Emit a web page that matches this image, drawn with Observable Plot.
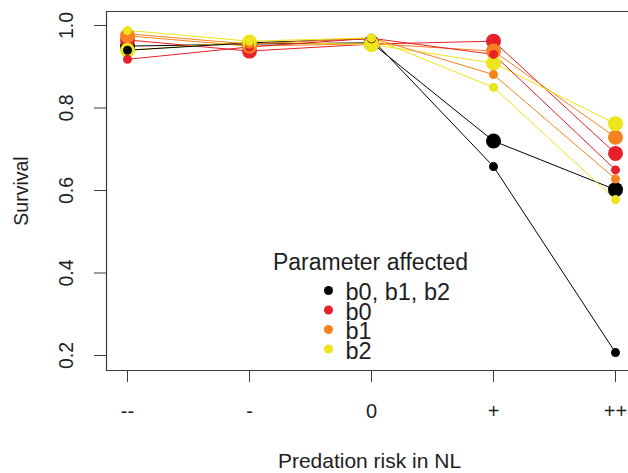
<!DOCTYPE html>
<html><head><meta charset="utf-8">
<script src="https://cdn.jsdelivr.net/npm/d3@7"></script>
<script src="https://cdn.jsdelivr.net/npm/@observablehq/plot@0.6"></script>
<style>html,body{margin:0;padding:0;background:#fff;overflow:hidden}</style>
</head><body><div id="chart"></div>
<script>
// ---- data ----
const categories = ["--", "-", "0", "+", "++"];
const yTicks = [0.2, 0.4, 0.6, 0.8, 1.0];
const xTitle = "Predation risk in NL";
const yTitle = "Survival";
const legendTitle = "Parameter affected";
const legendLabels = ["b0, b1, b2", "b0", "b1", "b2"];
const legendColors = ["#000000", "#e8202a", "#f5821f", "#ede41a"];

// large points (first set) and small points (second set), per parameter
const blackLarge  = [0.950, 0.955, 0.958, 0.720, 0.602];
const redLarge    = [0.965, 0.938, 0.955, 0.962, 0.690];
const orangeLarge = [0.975, 0.950, 0.956, 0.938, 0.729];
const yellowLarge = [0.940, 0.960, 0.954, 0.909, 0.762];
const blackSmall  = [0.940, 0.958, 0.968, 0.658, 0.207];
const redSmall    = [0.918, 0.948, 0.969, 0.930, 0.650];
const orangeSmall = [0.980, 0.955, 0.970, 0.881, 0.628];
const yellowSmall = [0.988, 0.962, 0.970, 0.850, 0.578];

const largeSeries = [blackLarge, redLarge, orangeLarge, yellowLarge];
const smallSeries = [blackSmall, redSmall, orangeSmall, yellowSmall];

function rowsOf(list, kind) {
  const rows = [];
  list.forEach((vals, s) => vals.forEach((v, i) => rows.push({series: kind + s, color: legendColors[s], i, v})));
  return rows;
}
const largeRows = rowsOf(largeSeries, "L");
const smallRows = rowsOf(smallSeries, "S");
const allRows = largeRows.concat(smallRows);

// ---- layout ----
const W = 628, H = 473;
const mL = 106, mR = 0, mT = 11, mB = 103;
const x0 = 127, step = 122;
const xDomain = [(mL - x0) / step, (W - mR - x0) / step];
const yDomain = [0.2 - 15 / 412.5, 1.0 + 14 / 412.5];
const axisColor = "#3a3a3a";
const textColor = "#1e1e1e";
const fmt = d3.format(".1f");

const marks = [
  Plot.ruleY(yDomain, {stroke: axisColor, strokeWidth: 1.2}),
  Plot.ruleX([xDomain[0]], {stroke: axisColor, strokeWidth: 1.2}),
  Plot.axisX(d3.range(categories.length), {tickSize: 12, tickPadding: 21, tickFormat: i => categories[i], fontSize: 20, label: null, stroke: axisColor, fill: textColor}),
  Plot.axisY(yTicks, {tickSize: 12, tickFormat: () => "", label: null, stroke: axisColor}),
  Plot.text(yTicks, {y: d => d, text: d => fmt(d), frameAnchor: "left", dx: -34, rotate: -90, lineAnchor: "bottom", textAnchor: "middle", fontSize: 19.5, fill: textColor}),
  Plot.text([yTitle], {text: d => d, frameAnchor: "left", dx: -79, rotate: -90, lineAnchor: "bottom", textAnchor: "middle", fontSize: 19.5, fill: textColor}),
  Plot.text([xTitle], {text: d => d, frameAnchor: "bottom", dx: 2, dy: 97, lineAnchor: "bottom", fontSize: 21, fill: textColor}),
  Plot.line(allRows, {x: "i", y: "v", z: "series", stroke: "color", strokeWidth: 1}),
  Plot.dot(largeRows, {x: "i", y: "v", r: 7.5, fill: "color", stroke: null}),
  Plot.dot(smallRows, {x: "i", y: "v", r: 4.5, fill: "color", stroke: null}),
  Plot.text([legendTitle], {text: d => d, frameAnchor: "top-left", dx: 264, dy: 258, textAnchor: "middle", lineAnchor: "bottom", fontSize: 23, fill: textColor})
];
legendLabels.forEach((lab, k) => {
  marks.push(Plot.dot([k], {frameAnchor: "top-left", dx: 222, dy: 279 + k * 19.5, r: 4.5, fill: legendColors[k], stroke: null}));
  marks.push(Plot.text([lab], {text: d => d, frameAnchor: "top-left", dx: 239, dy: 288.5 + k * 19.5, textAnchor: "start", lineAnchor: "bottom", fontSize: 23.5, fill: textColor}));
});

const chart = Plot.plot({
  width: W, height: H,
  marginLeft: mL, marginRight: mR, marginTop: mT, marginBottom: mB,
  style: {fontFamily: "'Liberation Sans', Arial, sans-serif", background: "#fff"},
  x: {type: "linear", domain: xDomain},
  y: {type: "linear", domain: yDomain},
  color: {type: "identity"},
  marks
});
document.getElementById("chart").appendChild(chart);
</script>
</body></html>
